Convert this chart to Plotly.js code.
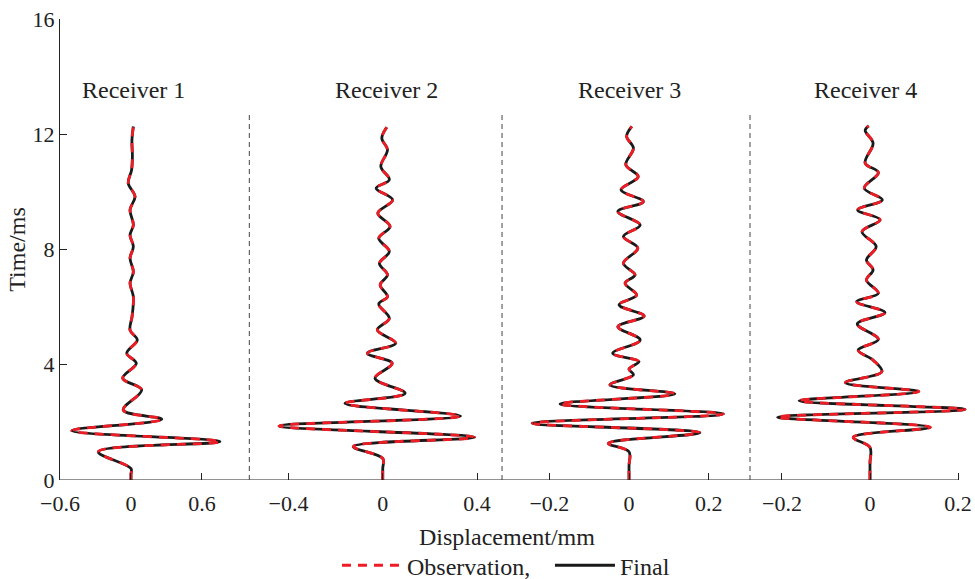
<!DOCTYPE html>
<html>
<head>
<meta charset="utf-8">
<script src="https://cdn.plot.ly/plotly-3.0.1.min.js"></script>
<style>html,body{margin:0;padding:0;background:#fff;}#chart{width:975px;height:579px;}</style>
</head>
<body>
<div id="chart"></div>
<script>
// ---- data (time in ms, displacement in mm) ----
const receiverNames = ["Receiver 1", "Receiver 2", "Receiver 3", "Receiver 4"];
const seriesNames = ["Observation,", "Final"];

const r1Time = [0, 0.2, 0.4, 0.98, 1.33, 1.71, 2.11, 2.43, 3.13, 3.53, 4.05, 4.4, 4.86, 5.2, 5.7, 6.36, 6.83, 7.23, 7.7, 8.1, 8.5, 8.85, 9.375, 9.84, 10.3, 10.76, 11.2, 11.8, 12.27];
const r1Disp = [0, 0, 0, -0.276, 0.752, -0.50, 0.26, -0.065, 0.09, -0.07, 0.045, -0.036, 0.053, -0.008, 0.01, 0.02, -0.008, 0.02, -0.008, 0.02, -0.008, 0.02, -0.008, 0.034, -0.023, 0.005, 0.012, 0.008, 0.02];

const r2Time = [0, 0.4, 0.75, 1.16, 1.48, 1.875, 2.22, 2.66, 3.01, 3.53, 4.05, 4.4, 4.75, 5.21, 5.61, 6.11, 6.36, 6.77, 7.12, 7.52, 7.93, 8.39, 8.8, 9.26, 9.72, 10.13, 10.42, 10.88, 11.46, 11.86, 12.24];
const r2Disp = [0, 0, 0, -0.125, 0.39, -0.44, 0.33, -0.16, 0.095, -0.033, 0.04, -0.065, 0.055, -0.023, 0.028, -0.017, 0.02, -0.011, 0.02, -0.014, 0.028, -0.017, 0.031, -0.021, 0.042, -0.028, 0.028, -0.008, 0.02, -0.004, 0.017];

const r3Time = [0, 0.5, 0.98, 1.27, 1.64, 1.97, 2.29, 2.64, 2.99, 3.3, 3.65, 3.85, 4.11, 4.4, 4.86, 5.32, 5.69, 6.08, 6.42, 6.83, 7.12, 7.52, 8.05, 8.45, 8.85, 9.32, 9.66, 10.07, 10.53, 10.94, 11.52, 11.92, 12.27];
const r3Disp = [0, 0, 0, -0.052, 0.178, -0.243, 0.237, -0.173, 0.115, -0.048, 0.011, 0.0, 0.025, -0.041, 0.028, -0.028, 0.038, -0.025, 0.019, -0.01, 0.015, -0.014, 0.022, -0.014, 0.028, -0.028, 0.036, -0.02, 0.023, -0.008, 0.011, -0.006, 0.007];

const r4Time = [0, 0.6, 1.13, 1.48, 1.83, 2.18, 2.45, 2.75, 3.07, 3.38, 3.76, 4.15, 4.51, 4.88, 5.42, 5.81, 6.19, 6.48, 6.94, 7.29, 7.64, 8.1, 8.62, 9.03, 9.375, 9.72, 10.13, 10.67, 11.0, 11.69, 12.13, 12.29];
const r4Disp = [0, 0, 0, -0.038, 0.137, -0.21, 0.216, -0.161, 0.111, -0.056, 0.027, 0.008, -0.027, 0.019, -0.029, 0.034, -0.03, 0.019, -0.008, 0.007, -0.008, 0.014, -0.018, 0.023, -0.028, 0.028, -0.013, 0.019, -0.011, 0.007, -0.011, -0.003];

// Observation and final curves coincide at the resolution of the figure
const times = [r1Time, r2Time, r3Time, r4Time];
const disps = [r1Disp, r2Disp, r3Disp, r4Disp];

const xTickVals = [[-0.6, 0, 0.6], [-0.4, 0, 0.4], [-0.2, 0, 0.2], [-0.2, 0, 0.2]];
const xAxisEnds = [[-0.6, 1.0], [-0.566, 0.506], [-0.3187, 0.3036], [-0.2727, 0.2]];
const yTickVals = [0, 4, 8, 12, 16];

// ---- styling / layout ----
const FONT = "Liberation Serif, Times New Roman, serif";
const TXT = 24, TICK = 22, INK = "#222";
const domains = [[0, 0.2069], [0.2069, 0.4831], [0.4831, 0.7541], [0.7541, 1]];
// the last panel's drawing area runs a little past its axis end (the trace overshoots it)
const viewRanges = [xAxisEnds[0], xAxisEnds[1], xAxisEnds[2], [-0.2727, 0.2386]];
const labelX = [0.02, 0.018, 0.002, -0.01];

const traces = [];
for (let i = 0; i < 4; i++) {
  const xa = i === 0 ? "x" : "x" + (i + 1);
  traces.push({
    x: disps[i], y: times[i], xaxis: xa, yaxis: "y", type: "scatter", mode: "lines",
    name: seriesNames[1], legendgroup: "final", showlegend: i === 0, legendrank: 2,
    line: {color: "#1a1a1a", width: 2.8, shape: "spline", smoothing: 1}
  });
}
for (let i = 0; i < 4; i++) {
  const xa = i === 0 ? "x" : "x" + (i + 1);
  traces.push({
    x: disps[i], y: times[i], xaxis: xa, yaxis: "y", type: "scatter", mode: "lines",
    name: seriesNames[0], legendgroup: "obs", showlegend: i === 0, legendrank: 1,
    line: {color: "#ee1c24", width: 2.8, dash: "9px,7px", shape: "spline", smoothing: 1}
  });
}

const layout = {
  width: 975, height: 579,
  margin: {l: 60, r: 0, t: 19, b: 99, autoexpand: false},
  paper_bgcolor: "#fff", plot_bgcolor: "#fff",
  font: {family: FONT, size: TXT, color: INK},
  showlegend: true,
  legend: {orientation: "h", x: 0.3027, xanchor: "left", y: -0.137, yanchor: "top",
           itemwidth: 60, entrywidth: 138, entrywidthmode: "pixels", tracegroupgap: 0,
           font: {family: FONT, size: TXT, color: INK}, bgcolor: "rgba(0,0,0,0)"},
  yaxis: {
    range: [0, 16], tickvals: yTickVals, ticks: "inside", ticklen: 7, tickwidth: 1, tickcolor: INK,
    showline: true, linecolor: INK, linewidth: 1, showgrid: false, zeroline: false,
    tickfont: {family: FONT, size: TICK, color: INK},
    title: {text: "Time/ms", font: {family: FONT, size: TXT, color: INK}, standoff: 0}
  },
  annotations: [],
  shapes: []
};

for (let i = 0; i < 4; i++) {
  const key = i === 0 ? "xaxis" : "xaxis" + (i + 1);
  const xr = i === 0 ? "x" : "x" + (i + 1);
  layout[key] = {
    domain: domains[i], range: viewRanges[i], tickvals: xTickVals[i], anchor: "y",
    ticks: "inside", ticklen: 7, tickwidth: 1, tickcolor: INK, ticklabelstandoff: 8,
    showline: false, showgrid: false, zeroline: false,
    tickfont: {family: FONT, size: TICK, color: INK}
  };
  // bottom axis line of this panel, up to its axis end
  layout.shapes.push({
    type: "line", xref: xr, yref: "y", x0: xAxisEnds[i][0], x1: xAxisEnds[i][1], y0: 0, y1: 0,
    line: {color: INK, width: 1}, layer: "above"
  });
  layout.annotations.push({
    text: receiverNames[i], xref: xr, yref: "y", x: labelX[i], y: 13.55,
    showarrow: false, xanchor: "center", yanchor: "middle",
    font: {family: FONT, size: TXT, color: INK}
  });
  if (i > 0) {
    layout.shapes.push({
      type: "line", xref: "paper", yref: "y", x0: domains[i][0], x1: domains[i][0], y0: 0, y1: 12.8,
      line: {color: "#444", width: 1, dash: "5px,4px"}
    });
  }
}

layout.annotations.push({
  text: "Displacement/mm", xref: "paper", yref: "paper", x: 0.4885, y: -0.1236,
  showarrow: false, xanchor: "center", yanchor: "middle",
  font: {family: FONT, size: TXT, color: INK}
});

Plotly.newPlot("chart", traces, layout, {staticPlot: true, displayModeBar: false});
</script>
</body>
</html>
